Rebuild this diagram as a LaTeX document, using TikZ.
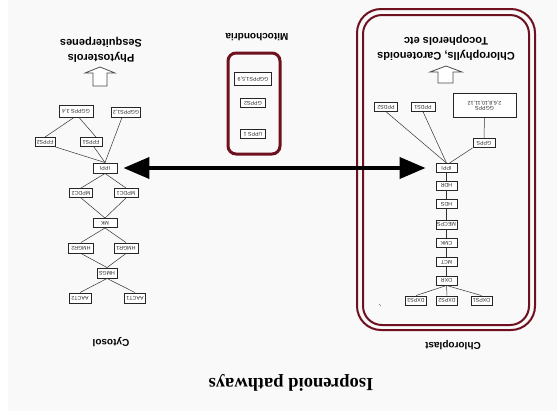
\documentclass[tikz,border=0pt]{standalone}
\usepackage{graphicx}
\usepackage{fontspec}
\setmainfont{Liberation Serif}
\setsansfont{Liberation Sans}
\usetikzlibrary{arrows.meta}
\definecolor{membrane}{RGB}{110,16,30}
\definecolor{panel}{RGB}{249,249,249}
\newcommand\flip[1]{\rotatebox[origin=c]{180}{#1}}

\begin{document}
\begin{tikzpicture}[x=1pt,y=-1pt,
  gene/.style={draw=black!85, line width=0.9pt, fill=white,
    font=\sffamily\fontsize{5.3}{5.8}\selectfont, text=black!85, inner sep=1pt,
    minimum height=9pt, minimum width=21pt},
  link/.style={draw=black!80, line width=0.5pt},
  region/.style={rotate=180, font=\sffamily\bfseries\fontsize{10}{12}\selectfont},
  product/.style={rotate=180, align=center, font=\sffamily\bfseries\fontsize{11}{14.5}\selectfont},
  hollow/.style={draw=black!70, line width=0.8pt, fill=white},
  wall/.style={draw=membrane, line width=2pt}
]
\useasboundingbox (0,0) rectangle (557,416);
\fill[panel] (8,0) rectangle (557,411);

% ---------- title and compartment names ----------
\node[rotate=180, font=\rmfamily\bfseries\fontsize{18.5}{22}\selectfont] (title) at (291,383) {Isoprenoid pathways};
\node[region] (cyt) at (111,342) {Cytosol};
\node[region] (chl) at (453,345) {Chloroplast};
\node[region] (mit) at (257,37) {Mitochondria};

\node[product] (prodc) at (101,50) {Phytosterols\\Sesquiterpenes};
\node[product] (prodp) at (446,48) {Chlorophylls, Carotenoids\\Tocopherols etc};

% ---------- compartment membranes ----------
\draw[wall] (357,9) [rounded corners=24pt] rectangle (535,330);
\draw[wall] (363,15) [rounded corners=19pt] rectangle (529,325);
\draw[draw=membrane, line width=3pt] (228,53) [rounded corners=8pt] rectangle (280,154);
\draw[black!50, line width=0.5pt] (379,304) -- (381,306);

% ---------- hollow product arrows ----------
\draw[hollow] (93,86) -- (93,73) -- (85,73) -- (100,67) -- (115,73) -- (107,73) -- (107,86) -- cycle;
\draw[hollow] (438,83) -- (438,72) -- (430,72) -- (446,66) -- (462,72) -- (453,72) -- (453,83) -- cycle;

% ---------- cytosol (MVA pathway) ----------
\node[gene, minimum width=34pt, minimum height=12pt] (g34) at (76,111) {\flip{GGPPS 3,4}};
\node[gene, minimum width=23pt, minimum height=10pt] (g12) at (126,112) {\flip{GGPPS1,2}};
\node[gene, minimum width=20pt] (f2) at (45,142) {\flip{FPPS2}};
\node[gene, minimum width=22pt] (f1) at (91,142) {\flip{FPPS1}};
\node[gene, minimum width=24pt, minimum height=10pt] (ic) at (105,168) {\flip{IPPI}};
\node[gene, minimum width=23pt] (m2) at (81,193) {\flip{MPDC2}};
\node[gene, minimum width=24pt] (m1) at (126,193) {\flip{MPDC1}};
\node[gene, minimum width=24pt] (mk) at (105,223) {\flip{MK}};
\node[gene, minimum width=25pt, minimum height=10pt] (r2) at (81,248) {\flip{HMGR2}};
\node[gene, minimum width=24pt, minimum height=10pt] (r1) at (126,248) {\flip{HMGR1}};
\node[gene, minimum width=20pt, minimum height=10pt] (hs) at (107,273) {\flip{HMGS}};
\node[gene, minimum width=22pt, minimum height=10pt] (a2) at (80,298) {\flip{AACT2}};
\node[gene, minimum width=21pt, minimum height=10pt] (a1) at (135,298) {\flip{AACT1}};

\draw[link] ([xshift=-2pt]g34.south) -- (f2.north);
\draw[link] ([xshift=3pt]g34.south) -- ([xshift=5pt]f1.north);
\draw[link] (f2.south east) -- (ic.north);
\draw[link] ([xshift=3pt]f1.south) -- (ic.north);
\draw[link] ([xshift=-4pt]g12.south) -- (ic.north);
\draw[link] (ic.south) -- (m2.north);
\draw[link] (ic.south) -- (m1.north);
\draw[link] (m2.south) -- (mk.north);
\draw[link] (m1.south) -- (mk.north);
\draw[link] (mk.south) -- (r2.north);
\draw[link] (mk.south) -- (r1.north);
\draw[link] (r2.south) -- (hs.north);
\draw[link] (r1.south) -- (hs.north);
\draw[link] (hs.south) -- (a2.north);
\draw[link] (hs.south) -- (a1.north);

% ---------- mitochondria ----------
\node[gene, minimum width=37pt, minimum height=13pt] (mg) at (253,79) {\flip{GGPPS1,5,9}};
\node[gene, minimum width=25pt] (mgp) at (253,103) {\flip{GPPS2}};
\node[gene, minimum width=25pt] (mu) at (253,134) {\flip{UPPS 1}};

% ---------- chloroplast (MEP pathway) ----------
\node[gene, minimum width=63pt, minimum height=24pt] (pg) at (484.5,105)
  {\flip{\begin{tabular}{@{}c@{}}GGPPS\\[-1pt]2,6,8,10,11,12\end{tabular}}};
\node[gene, minimum width=22pt] (pgp) at (484,143) {\flip{GPPS}};
\node[gene, minimum width=23pt, minimum height=8.5pt] (pp2) at (386,107) {\flip{PPDS2}};
\node[gene, minimum width=24pt, minimum height=8.5pt] (pp1) at (423,107) {\flip{PPDS1}};
\node[gene] (ip) at (446.5,168) {\flip{IPPI}};
\node[gene] (hdr) at (446.5,185.5) {\flip{HDR}};
\node[gene] (hds) at (446.5,204) {\flip{HDS}};
\node[gene] (mec) at (446.5,224.5) {\flip{MECPS}};
\node[gene] (cmk) at (446.5,243) {\flip{CMK}};
\node[gene] (mct) at (446.5,262) {\flip{MCT}};
\node[gene] (dxr) at (446.5,280.5) {\flip{DXR}};
\node[gene] (d3) at (416,300.5) {\flip{DXPS3}};
\node[gene] (d2) at (447,300.5) {\flip{DXPS2}};
\node[gene] (d1) at (481.5,300.5) {\flip{DXPS1}};

\draw[link] (d3.north) -- (dxr.south);
\draw[link] (d2.north) -- (dxr.south);
\draw[link] (d1.north) -- (dxr.south);
\draw[link] (dxr) -- (mct);
\draw[link] (mct) -- (cmk);
\draw[link] (cmk) -- (mec);
\draw[link] (mec) -- (hds);
\draw[link] (hds) -- (hdr);
\draw[link] (hdr) -- (ip);
\draw[link] (ip.north) -- (pp2.south);
\draw[link] (ip.north) -- (pp1.south);
\draw[link] ([xshift=3pt]ip.north) -- (pgp.south west);
\draw[link] (pgp.north) -- (pg.south);

% ---------- exchange of IPP between cytosol and plastid ----------
\draw[line width=4pt, {Triangle[length=26pt,width=21pt]}-{Triangle[length=26pt,width=21pt]}]
  ([xshift=6pt]ic.east) -- ([xshift=-10pt]ip.west);
\end{tikzpicture}
\end{document}
